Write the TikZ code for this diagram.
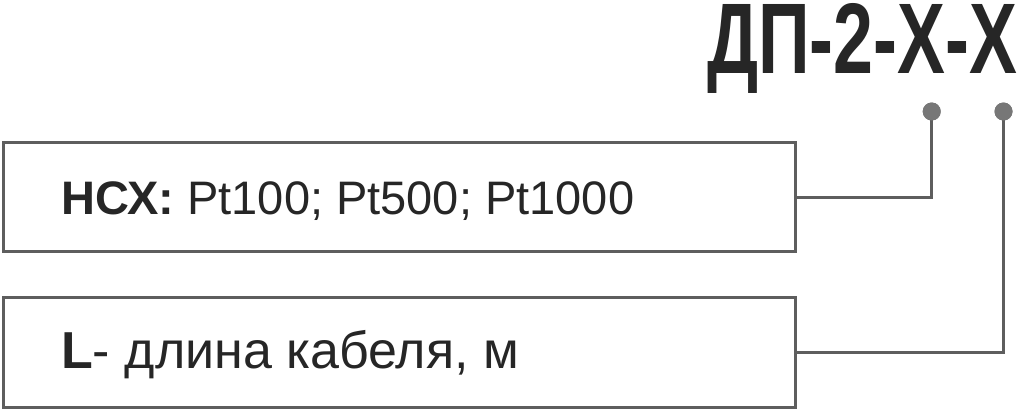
\documentclass[tikz,border=0pt]{standalone}
\usepackage{fontspec}
\setmainfont{Liberation Sans}
\usetikzlibrary{positioning}
\definecolor{linegray}{HTML}{5E5E5E}
\definecolor{dotgray}{HTML}{777777}
\definecolor{textdark}{HTML}{262626}
\tikzset{%
infobox/.style={draw=linegray,line width=3pt,rectangle,minimum width=791.7pt,minimum height=109.2pt,inner sep=0pt},
pin/.style={draw=none,fill=dotgray,circle,minimum size=18pt,inner sep=0pt},
lead/.style={draw=linegray,line width=3pt},
boxtext/.style={anchor=base west,inner sep=0pt,text=textdark,font=\fontsize{47}{56}\selectfont},
title/.style={anchor=north west,inner sep=0pt,text=textdark}
}
\begin{document}
\begin{tikzpicture}[x=1pt,y=-1pt]
    \useasboundingbox (0,0) rectangle (1024,410);

    \node[title] (code) at (707,3) {\resizebox{310pt}{70pt}{\bfseries ДП-2-Х-Х}};

    \node[pin] (pin1) at (931.7,111.5) {};
    \node[pin] (pin2) at (1003.5,111.5) {};

    \node[infobox] (sens) at (399.2,197.1) {};
    \node[infobox] (cable) at (399.2,352.5) {};

    \node[boxtext] (senstext) at (61,214) {\textbf{НСХ:} Pt100; Pt500; Pt1000};
    \node[boxtext] (cabletext) at (61,368) {\fontsize{52}{60}\selectfont\textbf{L}- длина кабеля, м};

    \draw[lead] (pin1.center) |- (sens.east);
    \draw[lead] (pin2.center) |- (cable.east);

    \node[pin] at (pin1) {};
    \node[pin] at (pin2) {};
\end{tikzpicture}
\end{document}
